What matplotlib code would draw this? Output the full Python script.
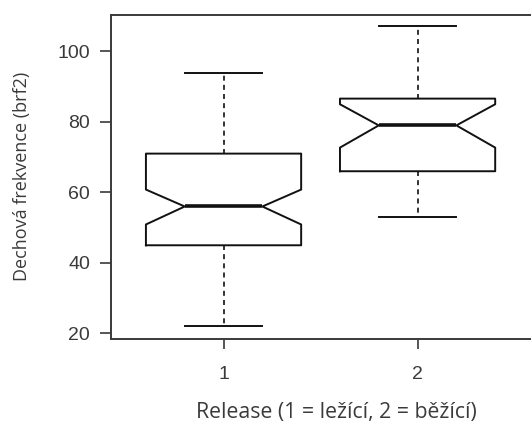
import matplotlib
matplotlib.use('Agg')
import matplotlib.pyplot as plt

# values (R-style notched boxplot)
groups = ['1', '2']
positions = [1, 2]
whislo = [22, 53]
q1 = [45, 66]
med = [56, 79]
q3 = [71, 86.6]
whishi = [94, 107.2]
cilo = [50.9, 72.7]
cihi = [60.8, 85.0]
yticks = [20, 40, 60, 80, 100]

W, H = 531, 423
fig = plt.figure(figsize=(W / 100, H / 100), dpi=100)
ax = fig.add_axes([111 / W, (H - 338.7) / H, (534 - 111) / W, (338.7 - 14.7) / H])

stats = []
for i in range(len(groups)):
    stats.append(dict(label=groups[i], whislo=whislo[i], q1=q1[i], med=med[i],
                      q3=q3[i], whishi=whishi[i], cilo=cilo[i], cihi=cihi[i],
                      fliers=[]))

ink = '#111111'
ax.bxp(stats, positions=positions, widths=0.8, shownotches=True, showfliers=False,
       boxprops=dict(color=ink, linewidth=1.4),
       medianprops=dict(color=ink, linewidth=2.6),
       whiskerprops=dict(color=ink, linewidth=1.2, linestyle=(0, (3, 2.5))),
       capprops=dict(color=ink, linewidth=1.4))

ax.set_xlim(0.42, 2.6)
ax.set_ylim(18.5, 110.4)
ax.set_yticks(yticks)
ax.set_xticks(positions)
ax.set_xticklabels(groups)

gray = '#3a3a3a'
for s in ax.spines.values():
    s.set_color(gray)
    s.set_linewidth(1.4)
ax.spines['right'].set_visible(False)
ax.tick_params(axis='y', length=8, width=1.2, color=gray, labelcolor=gray,
               labelsize=14, pad=7)
ax.tick_params(axis='x', length=7, width=1.2, color=gray, labelcolor=gray,
               labelsize=14, pad=13)
for t in ax.get_xticklabels() + ax.get_yticklabels():
    t.set_family('Liberation Sans')

ax.set_ylabel('Dechová frekvence (brf2)', fontsize=13, color=gray, family='Open Sans')
ax.yaxis.set_label_coords(-(111 - 22) / (534 - 111), 0.5)
ax.set_xlabel('Release (1 = ležící, 2 = běžící)', fontsize=15.3, color=gray, family='Open Sans')
ax.xaxis.set_label_coords((336 - 111) / (534 - 111), -(412 - 338.7) / (338.7 - 14.7))
ax.xaxis.label.set_va('center')
ax.yaxis.label.set_va('center')

fig.savefig('out.png', dpi=100)
